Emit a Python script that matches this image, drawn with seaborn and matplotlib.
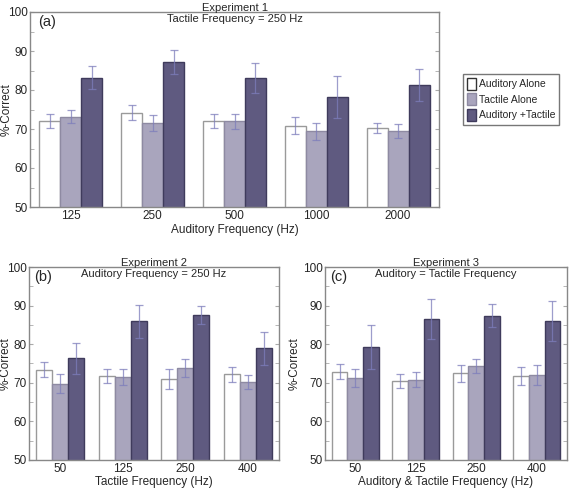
import numpy as np
import pandas as pd
import matplotlib
matplotlib.use("Agg")
import matplotlib.pyplot as plt
from matplotlib.ticker import MultipleLocator
from matplotlib.patches import Patch
import seaborn as sns

conditions = ["Auditory Alone", "Tactile Alone", "Auditory +Tactile"]

# Panel (a): Experiment 1
a_freqs = ["125", "250", "500", "1000", "2000"]
a_aud = [72.0, 74.2, 72.0, 70.8, 70.3]
a_tac = [73.2, 71.6, 72.0, 69.4, 69.5]
a_both = [83.2, 87.1, 83.1, 78.2, 81.4]
a_aud_err = [1.8, 2.0, 1.8, 2.2, 1.3]
a_tac_err = [1.7, 2.0, 1.9, 2.1, 1.8]
a_both_err = [2.9, 3.1, 3.8, 5.5, 4.1]

# Panel (b): Experiment 2
b_freqs = ["50", "125", "250", "400"]
b_aud = [73.4, 71.8, 70.9, 72.2]
b_tac = [69.8, 71.6, 73.8, 70.2]
b_both = [76.3, 85.9, 87.5, 78.9]
b_aud_err = [1.9, 1.8, 2.6, 2.0]
b_tac_err = [2.4, 2.1, 2.3, 1.8]
b_both_err = [4.1, 4.3, 2.3, 4.3]

# Panel (c): Experiment 3
c_freqs = ["50", "125", "250", "400"]
c_aud = [72.9, 70.5, 72.5, 71.8]
c_tac = [71.3, 70.8, 74.3, 72.0]
c_both = [79.3, 86.5, 87.4, 85.9]
c_aud_err = [2.0, 1.9, 2.2, 2.3]
c_tac_err = [2.3, 2.0, 1.8, 2.5]
c_both_err = [5.8, 5.1, 2.9, 5.2]

face_colors = ["#ffffff", "#a9a5bd", "#5f5a80"]
edge_colors = ["#9a9a9a", "#8e8aa2", "#3f3b5c"]
err_color = "#7d7dbb"

sns.set_style("white")
plt.rcParams["font.family"] = ["Liberation Sans", "DejaVu Sans"]

fig = plt.figure(figsize=(5.76, 4.88), dpi=100)

W, H = 576.0, 488.0
FS = 8


def make_axes(l, t, r, b):
    return fig.add_axes([l / W, 1 - b / H, (r - l) / W, (b - t) / H])


def panel(ax, freqs, aud, tac, both, aud_e, tac_e, both_e, xlabel, title, subtitle, letter,
          ylab_x, xlab_y):
    rows = []
    for vals, errs, cond in [(aud, aud_e, conditions[0]), (tac, tac_e, conditions[1]), (both, both_e, conditions[2])]:
        for f, v, e in zip(freqs, vals, errs):
            rows.append({"freq": f, "cond": cond, "value": v, "err": e})
    df = pd.DataFrame(rows)
    sns.barplot(data=df, x="freq", y="value", hue="cond", hue_order=conditions,
                order=freqs, palette=face_colors, width=0.77, gap=0,
                errorbar=None, legend=False, ax=ax, linewidth=1.0)
    n = len(freqs)
    for k, cond in enumerate(conditions):
        sub = df[df["cond"] == cond].set_index("freq").loc[freqs]
        patches = ax.patches[k * n:(k + 1) * n]
        xs = []
        for p in patches:
            p.set_facecolor(face_colors[k])
            p.set_edgecolor(edge_colors[k])
            p.set_linewidth(1.0)
            xs.append(p.get_x() + p.get_width() / 2)
        ax.errorbar(xs, sub["value"].values, yerr=sub["err"].values, fmt="none",
                    ecolor=err_color, elinewidth=0.9, capsize=3, capthick=0.9,
                    alpha=0.75, zorder=5)
    ax.set_ylim(50, 100)
    ax.set_xlim(-0.5, n - 0.5)
    ax.yaxis.set_major_locator(MultipleLocator(10))
    ax.yaxis.set_minor_locator(MultipleLocator(5))
    ax.tick_params(axis="y", which="both", direction="in", left=True, right=True,
                   length=3, color="#aaaaaa", labelsize=FS + 0.5, pad=1.5)
    ax.tick_params(axis="x", length=0, labelsize=FS + 0.5, pad=2)
    for s in ax.spines.values():
        s.set_color("#888888")
        s.set_linewidth(1.0)
    ax.set_xlabel(xlabel, fontsize=FS + 0.5)
    ax.set_ylabel("%-Correct", fontsize=FS + 0.5)
    ax.yaxis.set_label_coords(ylab_x, 0.5)
    ax.xaxis.set_label_coords(0.5, xlab_y)
    ax.set_title(title, fontsize=FS, pad=1)
    ax.text(0.5, 0.99, subtitle, transform=ax.transAxes, ha="center", va="top", fontsize=FS)
    ax.text(0.02, 0.985, letter, transform=ax.transAxes, ha="left", va="top", fontsize=10.5)


ax_a = make_axes(30, 12, 439, 207)
panel(ax_a, a_freqs, a_aud, a_tac, a_both, a_aud_err, a_tac_err, a_both_err,
      "Auditory Frequency (Hz)", "Experiment 1", "Tactile Frequency = 250 Hz", "(a)",
      ylab_x=-0.042, xlab_y=-0.085)

ax_b = make_axes(29, 267, 279, 460)
panel(ax_b, b_freqs, b_aud, b_tac, b_both, b_aud_err, b_tac_err, b_both_err,
      "Tactile Frequency (Hz)", "Experiment 2", "Auditory Frequency = 250 Hz", "(b)",
      ylab_x=-0.068, xlab_y=-0.085)

ax_c = make_axes(325, 267, 567, 460)
panel(ax_c, c_freqs, c_aud, c_tac, c_both, c_aud_err, c_tac_err, c_both_err,
      "Auditory & Tactile Frequency (Hz)", "Experiment 3", "Auditory = Tactile Frequency", "(c)",
      ylab_x=-0.099, xlab_y=-0.085)

handles = [Patch(facecolor=face_colors[k], edgecolor="#333333" if k == 0 else edge_colors[k], label=conditions[k])
           for k in range(3)]
leg = fig.legend(handles=handles, loc="upper left", bbox_to_anchor=(463 / W, 1 - 74 / H),
                 fontsize=7.5, frameon=True, fancybox=False, handlelength=0.9, handleheight=1.4,
                 handletextpad=0.3, borderpad=0.35, labelspacing=0.35, borderaxespad=0)
leg.get_frame().set_edgecolor("#555555")
leg.get_frame().set_linewidth(1.0)

fig.savefig("out.png", dpi=100)
